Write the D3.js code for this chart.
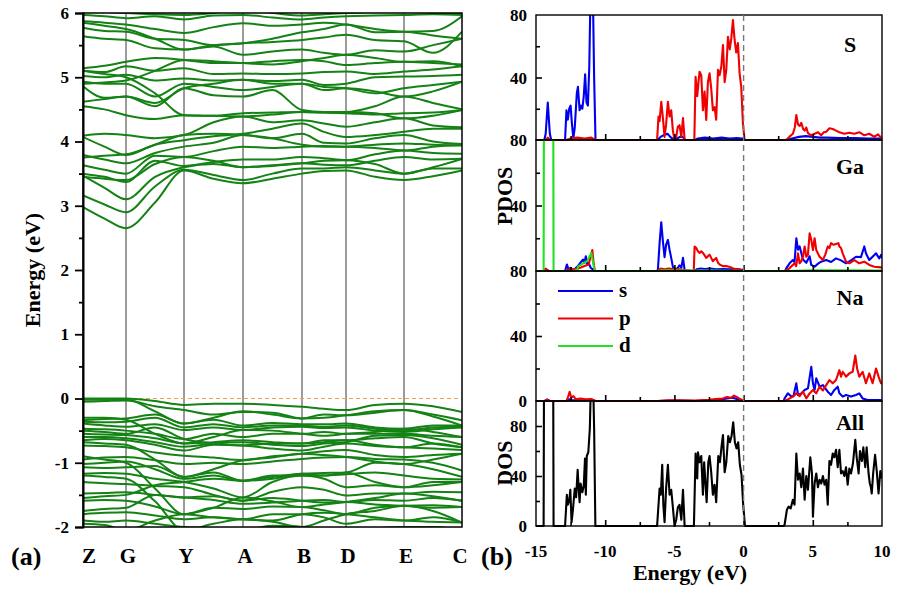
<!DOCTYPE html>
<html><head><meta charset="utf-8">
<script src="https://cdn.jsdelivr.net/npm/d3@7"></script>
<style>body{margin:0;background:#fff}svg{display:block}text{font-family:"Liberation Serif","Times New Roman",serif;font-weight:bold}</style>
</head><body>
<script>
// ---------------- DATA ----------------
const kLabels = ["Z","G","Y","A","B","D","E","C"];
const kTicks = [0, 0.43, 1.01, 1.60, 2.19, 2.63, 3.21, 3.79];
const kSamples = [0,0.215,0.43,0.72,1.01,1.305,1.60,1.895,2.19,2.41,2.63,2.92,3.21,3.50,3.79];
const energyTicks = [-2,-1,0,1,2,3,4,5,6];

const conductionBands = [
[2.98,2.80,2.65,3.05,3.55,3.42,3.35,3.42,3.50,3.54,3.55,3.45,3.40,3.46,3.55],
[3.16,3.02,2.90,3.30,3.56,3.48,3.40,3.50,3.58,3.58,3.60,3.55,3.50,3.58,3.58],
[3.47,3.28,3.10,3.45,3.60,3.65,3.60,3.63,3.66,3.64,3.63,3.70,3.76,3.72,3.73],
[3.50,3.45,3.37,3.70,3.62,3.68,3.72,3.72,3.76,3.74,3.71,3.80,3.86,3.82,3.81],
[3.63,3.56,3.50,3.78,3.76,3.85,3.92,3.90,3.92,3.93,3.92,3.95,3.97,3.95,3.94],
[3.79,3.72,3.66,3.82,3.92,3.98,4.10,4.05,4.12,3.98,3.97,4.05,4.10,4.00,3.96],
[4.07,3.92,3.79,3.95,4.02,4.08,4.12,4.20,4.28,4.15,4.07,4.10,4.15,4.20,4.20],
[4.09,4.12,4.10,4.05,4.10,4.30,4.39,4.30,4.33,4.28,4.23,4.30,4.36,4.25,4.22],
[4.55,4.50,4.41,4.35,4.41,4.40,4.44,4.45,4.46,4.45,4.44,4.42,4.44,4.45,4.49],
[4.86,4.68,4.70,4.55,4.83,4.72,4.70,4.80,4.49,4.46,4.46,4.55,4.70,4.60,4.50],
[4.93,4.90,4.90,4.70,4.90,4.85,4.80,4.85,4.90,4.85,4.83,4.75,4.83,4.88,4.93],
[5.02,5.00,5.04,4.95,4.98,4.95,4.96,4.94,4.96,4.88,4.90,5.00,5.01,5.02,5.04],
[5.10,5.08,5.17,5.10,5.14,5.05,5.06,5.05,5.06,5.08,5.09,5.05,5.09,5.12,5.17],
[5.14,5.18,5.24,5.30,5.27,5.22,5.22,5.25,5.27,5.25,5.19,5.22,5.24,5.22,5.20],
[5.64,5.60,5.58,5.45,5.43,5.48,5.35,5.40,5.43,5.38,5.35,5.42,5.40,5.50,5.60],
[5.77,5.72,5.71,5.60,5.58,5.50,5.53,5.55,5.58,5.62,5.66,5.58,5.56,5.38,5.71],
[5.87,5.85,5.82,5.75,5.69,5.78,5.84,5.80,5.82,5.85,5.82,5.75,5.71,5.72,5.95],
[5.97,5.95,5.92,5.95,5.90,5.96,5.97,5.93,5.90,5.93,5.95,5.96,5.97,5.98,5.97],
[6.05,6.02,6.00,5.98,5.97,6.00,6.05,6.00,5.96,5.98,6.00,6.02,6.05,6.00,5.99],
[5.10,5.05,5.00,4.75,4.41,4.40,4.39,4.42,4.46,4.45,4.46,4.44,4.36,4.40,4.49],
[3.75,3.78,3.80,3.95,4.10,4.12,4.10,4.05,3.95,3.92,3.92,3.90,3.86,3.92,3.94],
[3.45,3.42,3.40,3.65,3.76,3.70,3.60,3.62,3.66,3.70,3.71,3.65,3.50,3.60,3.73],
[4.90,4.92,4.95,5.10,5.27,5.25,5.22,5.20,5.25,5.30,5.35,5.30,5.24,5.25,5.17],
[5.85,5.80,5.75,5.60,5.43,5.50,5.53,5.60,5.70,5.75,5.82,5.70,5.71,5.65,5.60],
[4.62,4.66,4.70,4.60,4.83,4.90,4.96,4.90,4.90,4.80,4.83,4.78,4.70,4.78,4.93]
];

const valenceBands = [
[0.00,0.00,0.00,-0.04,-0.10,-0.08,-0.08,-0.10,-0.13,-0.16,-0.18,-0.10,-0.08,-0.12,-0.21],
[-0.05,-0.04,-0.03,-0.12,-0.18,-0.25,-0.21,-0.22,-0.31,-0.25,-0.26,-0.22,-0.18,-0.25,-0.34],
[-0.34,-0.32,-0.31,-0.25,-0.39,-0.33,-0.42,-0.38,-0.40,-0.40,-0.39,-0.45,-0.47,-0.42,-0.42],
[-0.39,-0.42,-0.44,-0.40,-0.49,-0.45,-0.49,-0.45,-0.44,-0.46,-0.45,-0.50,-0.52,-0.48,-0.45],
[-0.47,-0.48,-0.50,-0.55,-0.63,-0.55,-0.60,-0.55,-0.55,-0.52,-0.55,-0.55,-0.55,-0.58,-0.60],
[-0.55,-0.56,-0.57,-0.62,-0.70,-0.68,-0.65,-0.68,-0.70,-0.65,-0.65,-0.62,-0.60,-0.70,-0.76],
[-0.65,-0.63,-0.65,-0.72,-0.81,-0.72,-0.73,-0.78,-0.81,-0.75,-0.70,-0.74,-0.76,-0.78,-0.80],
[-0.73,-0.74,-0.76,-0.84,-0.89,-0.92,-0.96,-0.90,-0.86,-0.82,-0.80,-0.88,-0.91,-0.88,-0.86],
[-0.95,-0.92,-0.91,-0.96,-1.02,-1.00,-1.02,-0.98,-0.94,-0.92,-0.91,-0.94,-0.95,-1.00,-1.12],
[-1.07,-1.08,-1.07,-1.05,-1.22,-1.15,-1.28,-1.22,-1.17,-1.16,-1.15,-1.00,-1.02,-1.10,-1.22],
[-1.17,-1.16,-1.17,-1.25,-1.30,-1.40,-1.54,-1.30,-1.20,-1.25,-1.38,-1.35,-1.38,-1.30,-1.30],
[-1.30,-1.32,-1.33,-1.36,-1.38,-1.50,-1.59,-1.45,-1.38,-1.42,-1.51,-1.48,-1.48,-1.45,-1.46],
[-1.48,-1.47,-1.46,-1.50,-1.54,-1.58,-1.64,-1.62,-1.59,-1.58,-1.61,-1.58,-1.59,-1.55,-1.59],
[-1.59,-1.58,-1.59,-1.68,-1.80,-1.70,-1.72,-1.68,-1.69,-1.74,-1.80,-1.70,-1.67,-1.66,-1.69],
[-1.80,-1.78,-1.77,-1.82,-1.88,-1.85,-1.88,-1.80,-1.80,-1.85,-1.95,-1.88,-1.90,-1.85,-1.93],
[-1.90,-1.92,-1.90,-1.95,-2.00,-2.02,-2.05,-1.98,-2.00,-2.05,-2.05,-2.02,-2.00,-2.00,-2.05],
[-0.36,-0.37,-0.36,-0.30,-0.45,-0.40,-0.45,-0.42,-0.42,-0.44,-0.42,-0.47,-0.50,-0.45,-0.44],
[-0.60,-0.60,-0.62,-0.68,-0.75,-0.70,-0.68,-0.72,-0.74,-0.70,-0.68,-0.58,-0.57,-0.62,-0.72],
[-1.02,-1.00,-0.98,-1.10,-1.25,-1.20,-1.28,-1.20,-1.20,-1.20,-1.18,-1.15,-1.20,-1.25,-1.26],
[-0.02,-0.02,-0.01,-0.20,-0.39,-0.30,-0.20,-0.25,-0.31,-0.30,-0.26,-0.20,-0.18,-0.28,-0.42],
[-0.30,-0.30,-0.33,-0.55,-0.70,-0.60,-0.49,-0.50,-0.55,-0.58,-0.55,-0.52,-0.47,-0.52,-0.60],
[-0.50,-0.52,-0.55,-0.45,-0.63,-0.70,-0.73,-0.70,-0.70,-0.68,-0.65,-0.72,-0.76,-0.70,-0.76],
[-0.68,-0.70,-0.72,-0.95,-1.22,-1.10,-0.96,-0.92,-0.86,-0.88,-0.91,-0.98,-1.02,-0.95,-0.86],
[-0.90,-0.95,-1.00,-1.40,-1.80,-1.70,-1.54,-1.60,-1.69,-1.65,-1.61,-1.55,-1.48,-1.52,-1.59],
[-1.20,-1.22,-1.25,-1.60,-2.05,-1.95,-1.88,-1.92,-2.00,-1.90,-1.80,-1.75,-1.67,-1.75,-1.93],
[-1.55,-1.52,-1.50,-1.35,-1.30,-1.25,-1.28,-1.25,-1.17,-1.20,-1.15,-1.30,-1.38,-1.35,-1.30],
[-1.75,-1.72,-1.70,-1.50,-1.54,-1.52,-1.59,-1.55,-1.59,-1.62,-1.61,-1.65,-1.67,-1.70,-1.69],
[-1.95,-1.97,-2.05,-1.90,-1.80,-1.85,-1.88,-1.90,-1.80,-1.78,-1.80,-1.85,-1.90,-1.92,-1.93]
];

const dosEnergyTicks = [-15,-10,-5,0,5,10];

const S_s = [[-15,0],[-14.4,0],[-14.3,4],[-14.15,24],[-14.0,4],[-13.9,0],[-12.9,0],[-12.8,19],[-12.7,13],[-12.6,20],[-12.5,22],[-12.4,10],[-12.3,1],[-12.2,8],[-12.05,30],[-11.97,34],[-11.85,19],[-11.75,22],[-11.65,20],[-11.55,28],[-11.45,42],[-11.35,24],[-11.25,22],[-11.15,47],[-11.05,100],[-10.9,100],[-10.8,40],[-10.7,0],[-6.2,0],[-6.0,2],[-5.8,3],[-5.5,4],[-5.3,2],[-5.0,0],[-4.6,2],[-4.4,2],[-4.2,0],[-3.5,0],[-3.3,1],[-2.8,1.5],[-2.2,1],[-1.6,1.5],[-1.0,1],[-0.5,1.2],[-0.1,1],[0.05,0],[3.1,0],[3.5,1],[4.0,2],[4.5,2.5],[5.0,2],[5.5,1.5],[6,1.5],[7,1.2],[8,1.2],[9,1],[10,1]];
const S_p = [[-15,0],[-14.3,0],[-14.15,1.5],[-14.0,0],[-12.8,0],[-12.5,1],[-12.0,1.5],[-11.5,1],[-11.0,1.5],[-10.7,0],[-6.25,0],[-6.15,15],[-6.07,12],[-5.95,24.5],[-5.83,14],[-5.71,2],[-5.6,10],[-5.47,24.5],[-5.35,15],[-5.23,19],[-5.11,6],[-4.99,0],[-4.87,2],[-4.75,8.5],[-4.63,9.5],[-4.5,2],[-4.38,14],[-4.26,0],[-3.56,0],[-3.47,40.5],[-3.35,28],[-3.25,38],[-3.18,43.7],[-3.06,41.5],[-2.94,19],[-2.82,31],[-2.7,12.8],[-2.58,37],[-2.46,42.7],[-2.34,33],[-2.22,19],[-2.1,21],[-1.98,13],[-1.85,45],[-1.73,41.5],[-1.61,47],[-1.49,60.8],[-1.37,37],[-1.25,45],[-1.13,66],[-1.0,58],[-0.89,65],[-0.77,76.8],[-0.65,64],[-0.53,56],[-0.41,62],[-0.29,42.7],[-0.17,34],[-0.05,10.7],[0.07,0],[3.08,0],[3.3,2],[3.56,4],[3.7,8],[3.81,16],[3.93,10],[4.05,9],[4.17,11],[4.3,7],[4.41,6],[4.53,8],[4.65,4.4],[4.89,3],[5.13,4],[5.38,5],[5.6,3],[5.8,5],[5.97,5.3],[6.2,7.5],[6.44,7],[6.68,6],[6.92,5],[7.1,4.5],[7.28,4],[7.64,4.7],[8.0,4],[8.36,5],[8.72,3],[9.08,4],[9.45,2],[9.7,3.6],[10,1]];
const Ga_s = [[-15,0],[-14.4,0],[-14.3,1],[-14.1,0],[-12.9,0],[-12.77,4],[-12.65,1],[-12.5,2],[-12.3,0.5],[-12.1,2],[-11.97,3],[-11.8,5],[-11.6,7],[-11.5,5],[-11.4,9],[-11.3,4],[-11.2,5],[-11.05,2],[-10.9,1],[-10.7,0],[-6.25,0],[-6.19,1],[-6.07,17],[-5.95,29.7],[-5.83,18],[-5.71,8.5],[-5.6,16],[-5.47,19],[-5.35,13],[-5.23,8],[-5.11,2.5],[-4.99,1.5],[-4.87,1],[-4.75,2],[-4.63,3.5],[-4.5,2],[-4.38,8],[-4.26,0.5],[-3.56,0],[-3.4,1],[-3.1,1.5],[-2.8,1.2],[-2.4,1.5],[-2.0,1],[-1.5,1.2],[-1.0,1],[-0.5,1.2],[-0.1,0.8],[0.05,0],[3.0,0],[3.08,1.6],[3.32,4.7],[3.56,6.7],[3.68,5.5],[3.81,20],[3.93,13],[4.05,15],[4.17,11],[4.29,7],[4.53,5],[4.77,9],[4.89,3.7],[5.13,2.6],[5.38,4.5],[5.6,5.7],[5.97,6.7],[6.32,5.5],[6.68,7.7],[7.04,6.5],[7.4,4.7],[7.76,6.5],[8.12,8.7],[8.48,8.5],[8.72,15],[8.84,10.8],[9.08,6.7],[9.32,8.7],[9.57,10.8],[9.8,7.7],[9.93,9.8],[10,8]];
const Ga_p = [[-15,0],[-14.4,0],[-14.3,1.5],[-14.1,0],[-12.9,0],[-12.6,1],[-12.2,1],[-11.8,2],[-11.5,3],[-11.2,4],[-11.05,9],[-10.93,12.8],[-10.85,6],[-10.75,0],[-6.25,0],[-6.0,1.5],[-5.7,1],[-5.4,1.5],[-5.0,1],[-4.6,1],[-4.3,0.5],[-3.6,0],[-3.54,15],[-3.42,14],[-3.3,12],[-3.18,11],[-3.06,12],[-2.94,11],[-2.85,10],[-2.7,8],[-2.58,9],[-2.46,10],[-2.34,8],[-2.22,6],[-2.1,7],[-1.98,8],[-1.85,5],[-1.73,4],[-1.5,3],[-1.25,3],[-1.0,2.5],[-0.75,1.5],[-0.5,1],[-0.25,0.8],[0.0,0],[3.0,0],[3.3,1.6],[3.68,4.7],[3.8,3],[3.93,10.8],[4.05,4.7],[4.17,6],[4.29,8.7],[4.41,15],[4.53,8.7],[4.65,10],[4.77,23],[4.89,19],[5.01,12.8],[5.13,20],[5.25,12.8],[5.49,8.7],[5.73,6.7],[5.9,10],[6.08,15],[6.2,14],[6.32,17],[6.5,16],[6.68,16.5],[6.85,17],[6.92,15],[7.04,14],[7.16,10.8],[7.4,5.7],[7.64,4.7],[8.0,6.7],[8.36,4.7],[8.72,5.7],[9.08,3.7],[9.45,2.6],[9.93,2.2],[10,2]];
const Ga_d = [[-15,0],[-14.45,0],[-14.38,300],[-13.8,300],[-13.73,0],[-12.3,0],[-12.0,1],[-11.97,2.7],[-11.6,4.7],[-11.3,6],[-11.2,7.8],[-11.0,11],[-10.85,4],[-10.75,0],[-6.2,0],[-5.9,0.5],[-5.5,0.5],[-4.5,0.3],[-3.5,0.3],[-2,0.3],[0,0],[3,0],[5,0.5],[7,0.5],[10,0.3]];
const Na_s = [[-15,0],[-14.4,0],[-14.2,0.8],[-14.0,0],[-12.8,0],[-12.6,1],[-12.4,0.5],[-11.5,0.5],[-11.0,0.8],[-10.7,0],[-6.2,0],[-5.0,0.3],[-3.5,0],[-2.5,0.5],[-1.6,1],[-1.2,1.5],[-0.8,2],[-0.5,1.2],[-0.1,0.5],[0.05,0],[2.9,0],[2.96,1.6],[3.2,4.7],[3.44,2.7],[3.6,3],[3.81,10.9],[3.93,3.7],[4.17,4.7],[4.41,6.8],[4.65,7.8],[4.89,21],[5.01,10.9],[5.13,6.8],[5.25,13.9],[5.49,8.8],[5.73,9.8],[6.08,5.7],[6.32,3.7],[6.56,6.8],[6.8,8.8],[6.92,4.7],[7.16,2.7],[7.4,3.7],[7.76,2.7],[8.12,3.7],[8.36,4.7],[8.6,1.6],[8.96,0.6],[10,0.6]];
const Na_p = [[-15,0],[-14.3,0],[-14.2,1],[-14.0,0],[-12.8,0],[-12.7,2],[-12.57,5.7],[-12.45,2],[-12.3,3],[-12.1,1],[-11.8,1.5],[-11.4,1],[-11.0,1.2],[-10.7,0],[-6.2,0],[-5.5,0.5],[-4.5,0.5],[-3.5,0.3],[-2.5,0.8],[-2.0,1.2],[-1.5,1.5],[-1.2,2.5],[-0.9,2],[-0.7,3.3],[-0.5,2.5],[-0.3,1.5],[0.05,0],[2.9,0],[3.2,1],[3.56,2.7],[3.81,4.7],[4.05,3],[4.29,5.7],[4.53,1.6],[4.77,4.7],[5.01,6.8],[5.25,4.7],[5.49,8.8],[5.73,6.5],[5.97,9.8],[6.2,12.9],[6.44,10.9],[6.68,12.9],[6.92,19],[7.04,15],[7.16,18],[7.4,15],[7.64,17],[7.88,18],[8.07,28],[8.2,20],[8.36,15],[8.6,18],[8.84,10.9],[9.08,17],[9.32,10.9],[9.57,20],[9.75,15],[9.93,10.9],[10,12]];
const Total = [[-15,0],[-14.45,0],[-14.38,300],[-13.8,300],[-13.73,0],[-12.9,0],[-12.77,25],[-12.7,17],[-12.6,20],[-12.52,29],[-12.43,3],[-12.33,13],[-12.2,30],[-12.1,23],[-11.99,45],[-11.9,27],[-11.85,19],[-11.78,34],[-11.65,27],[-11.55,32],[-11.46,54],[-11.4,25],[-11.33,56],[-11.22,59],[-11.11,78],[-11.0,130],[-10.9,130],[-10.8,78],[-10.71,0],[-6.25,0],[-6.07,30],[-5.98,25],[-5.88,49],[-5.8,17],[-5.71,3],[-5.6,30],[-5.47,49],[-5.35,25],[-5.23,29],[-5.11,15],[-4.99,0],[-4.87,5],[-4.75,15],[-4.63,17],[-4.5,5],[-4.38,29],[-4.26,0],[-3.59,0],[-3.47,58],[-3.35,38],[-3.3,59],[-3.18,51],[-3.06,56],[-2.94,25],[-2.85,51],[-2.67,19],[-2.55,51],[-2.46,56],[-2.34,43],[-2.22,25],[-2.1,33],[-1.98,19],[-1.83,56],[-1.71,51],[-1.59,64],[-1.49,72.7],[-1.37,43],[-1.25,51],[-1.11,72],[-0.99,67],[-0.87,72],[-0.75,83],[-0.63,67],[-0.51,62],[-0.39,67],[-0.27,49],[-0.15,41],[-0.03,17],[0.1,0],[2.9,0],[2.96,1],[3.13,13],[3.25,15.5],[3.4,14],[3.56,21],[3.68,17],[3.81,58],[3.93,37],[4.05,42],[4.17,31],[4.29,46],[4.41,21],[4.53,40],[4.65,29],[4.82,55],[4.94,42],[5.01,7.5],[5.13,34],[5.25,42],[5.37,31],[5.49,37],[5.61,34],[5.73,40],[5.85,33],[5.97,37],[6.08,17],[6.2,52],[6.32,49],[6.44,58],[6.56,55],[6.68,61],[6.8,47],[6.92,61],[7.04,42],[7.16,44],[7.28,40],[7.4,47],[7.52,33],[7.64,46],[7.76,42],[7.9,50],[8.07,69],[8.17,55],[8.31,42],[8.41,60],[8.55,52],[8.65,63],[8.79,47],[8.89,63],[9.03,42],[9.12,34],[9.2,31],[9.26,26],[9.36,42],[9.5,57],[9.62,44],[9.75,26],[9.88,44],[10,38]];

const panelNames = ["S","Ga","Na","All"];
const legendNames = ["s","p","d"];

// ---------------- DRAW ----------------
const W = 898, H = 594;
const svg = d3.select("body").append("svg").attr("width", W).attr("height", H);
svg.append("rect").attr("width", W).attr("height", H).attr("fill", "#fff");
const defs = svg.append("defs");

// ===== Left: band structure =====
const L = {x0: 83, x1: 462, y0: 13, y1: 527};
const kx = d3.scaleLinear().domain([kTicks[0], kTicks[kTicks.length-1]]).range([L.x0, L.x1]);
const ey = d3.scaleLinear().domain([-2, 6]).range([L.y1, L.y0]);
defs.append("clipPath").attr("id", "clipL").append("rect")
  .attr("x", L.x0).attr("y", L.y0).attr("width", L.x1 - L.x0).attr("height", L.y1 - L.y0);

const gL = svg.append("g");
gL.selectAll("line.kv").data(kTicks.slice(1, -1)).join("line")
  .attr("x1", d => kx(d)).attr("x2", d => kx(d)).attr("y1", L.y0).attr("y2", L.y1)
  .attr("stroke", "#222").attr("stroke-width", 0.9);

const bandLine = d3.line().x((d, i) => kx(kSamples[i])).y(d => ey(d)).curve(d3.curveMonotoneX);
const gB = gL.append("g").attr("clip-path", "url(#clipL)");
gB.append("line").attr("x1", L.x0).attr("x2", L.x1).attr("y1", ey(0)).attr("y2", ey(0))
  .attr("stroke", "#f0a050").attr("stroke-width", 1.2).attr("stroke-dasharray", "4,3");
gB.selectAll("path.band").data(conductionBands.concat(valenceBands)).join("path")
  .attr("d", bandLine).attr("fill", "none").attr("stroke", "#148214").attr("stroke-width", 2);

gL.append("rect").attr("x", L.x0).attr("y", L.y0).attr("width", L.x1 - L.x0).attr("height", L.y1 - L.y0)
  .attr("fill", "none").attr("stroke", "#000").attr("stroke-width", 1.5);

const axL = gL.append("g").attr("transform", `translate(${L.x0},0)`)
  .call(d3.axisLeft(ey).tickValues(energyTicks).tickSize(8).tickPadding(6).tickFormat(d => String(d)));
axL.select(".domain").attr("stroke-width", 2);
axL.selectAll(".tick line").attr("stroke-width", 1.8);
axL.selectAll("text").attr("font-size", 17).attr("font-family", "Liberation Serif, serif").attr("font-weight", "bold");
const minorL = d3.range(-1.5, 6, 1);
gL.append("g").attr("transform", `translate(${L.x0},0)`)
  .call(d3.axisLeft(ey).tickValues(minorL).tickSize(4).tickFormat(""))
  .call(g => g.select(".domain").remove())
  .selectAll(".tick line").attr("stroke-width", 1.8);

gL.append("text").attr("transform", `translate(40,${(L.y0 + L.y1) / 2}) rotate(-90)`)
  .attr("text-anchor", "middle").attr("font-size", 22).text("Energy (eV)");

gL.selectAll("text.klab").data(kLabels).join("text")
  .attr("x", (d, i) => kx(kTicks[i]) + (i === 0 ? 6 : (i === kLabels.length - 1 ? -2 : 2)))
  .attr("y", 563).attr("text-anchor", "middle").attr("font-size", 21).text(d => d);
gL.append("text").attr("x", 11).attr("y", 565).attr("font-size", 26).text("(a)");

// ===== Right: DOS =====
const ex = d3.scaleLinear().domain([-15, 10]).range([536, 882]);
const panels = [
  {name: panelNames[0], top: 15, bot: 140, max: 80, series: [[S_s, "#0000f0"], [S_p, "#f00000"]], labels: [40, 80]},
  {name: panelNames[1], top: 140, bot: 271, max: 80, series: [[Ga_s, "#0000f0"], [Ga_p, "#f00000"], [Ga_d, "#22e022"]], labels: [40, 80]},
  {name: panelNames[2], top: 271, bot: 401, max: 80, series: [[Na_s, "#0000f0"], [Na_p, "#f00000"]], labels: [0, 40, 80]},
  {name: panelNames[3], top: 401, bot: 526, max: 100, series: [[Total, "#000"]], labels: [0, 40, 80]}
];
panels.forEach((p, pi) => {
  const y = d3.scaleLinear().domain([0, p.max]).range([p.bot, p.top]);
  const g = svg.append("g");
  defs.append("clipPath").attr("id", "clipP" + pi).append("rect")
    .attr("x", ex(-15)).attr("y", p.top).attr("width", ex(10) - ex(-15)).attr("height", p.bot - p.top + 1);
  const line = d3.line().x(d => ex(d[0])).y(d => y(d[1]));
  const gc = g.append("g").attr("clip-path", `url(#clipP${pi})`);
  p.series.forEach(([data, col]) => {
    gc.append("path").datum(data).attr("d", line).attr("fill", "none")
      .attr("stroke", col).attr("stroke-width", 2.1).attr("stroke-linejoin", "round");
  });
  g.append("rect").attr("x", ex(-15)).attr("y", p.top).attr("width", ex(10) - ex(-15)).attr("height", p.bot - p.top)
    .attr("fill", "none").attr("stroke", "#000").attr("stroke-width", 1.4);
  const yMajor = [40, 80].filter(v => v < p.max);
  const yMinor = [20, 60].filter(v => v < p.max);
  g.append("g").attr("transform", `translate(${ex(-15)},0)`)
    .call(d3.axisRight(y).tickValues(yMajor).tickSize(6).tickFormat(""))
    .call(a => a.select(".domain").remove()).selectAll("line").attr("stroke-width", 1.6);
  g.append("g").attr("transform", `translate(${ex(-15)},0)`)
    .call(d3.axisRight(y).tickValues(yMinor).tickSize(4).tickFormat(""))
    .call(a => a.select(".domain").remove()).selectAll("line").attr("stroke-width", 1.6);
  g.selectAll("text.yl").data(p.labels).join("text")
    .attr("x", ex(-15) - 9).attr("y", d => y(d) + 6).attr("text-anchor", "end")
    .attr("font-size", 17).text(d => d);
  g.append("g").attr("transform", `translate(0,${p.bot})`)
    .call(d3.axisTop(ex).tickValues(dosEnergyTicks.slice(1, -1)).tickSize(6).tickFormat(""))
    .call(a => a.select(".domain").remove()).selectAll("line").attr("stroke-width", 1.6);
  g.append("g").attr("transform", `translate(0,${p.bot})`)
    .call(d3.axisTop(ex).tickValues(d3.range(-12.5, 10, 5)).tickSize(4).tickFormat(""))
    .call(a => a.select(".domain").remove()).selectAll("line").attr("stroke-width", 1.6);
  g.append("text").attr("x", 850).attr("y", p.top + (pi === 0 ? 37 : (pi === 3 ? 29 : 34)))
    .attr("text-anchor", "middle").attr("font-size", 22).text(p.name);
});
svg.append("line").attr("x1", ex(0)).attr("x2", ex(0)).attr("y1", 15).attr("y2", 526)
  .attr("stroke", "#777").attr("stroke-width", 1.4).attr("stroke-dasharray", "6,4");

svg.selectAll("text.xl").data(dosEnergyTicks).join("text")
  .attr("x", d => ex(d)).attr("y", 557).attr("text-anchor", "middle").attr("font-size", 17).text(d => String(d));
svg.append("text").attr("x", 690).attr("y", 580).attr("text-anchor", "middle").attr("font-size", 22).text("Energy (eV)");
svg.append("text").attr("x", 481).attr("y", 565).attr("font-size", 26).text("(b)");
svg.append("text").attr("transform", "translate(512,196) rotate(-90)").attr("text-anchor", "middle").attr("font-size", 22).text("PDOS");
svg.append("text").attr("transform", "translate(512,463) rotate(-90)").attr("text-anchor", "middle").attr("font-size", 22).text("DOS");

const legCols = ["#0000f0", "#f00000", "#22e022"];
const legG = svg.append("g");
legendNames.forEach((n, i) => {
  const yy = 291 + i * 27.5;
  legG.append("line").attr("x1", 558).attr("x2", 613).attr("y1", yy).attr("y2", yy)
    .attr("stroke", legCols[i]).attr("stroke-width", 2);
  legG.append("text").attr("x", 619).attr("y", yy + 6).attr("font-size", 21).text(n);
});
</script>
</body></html>
